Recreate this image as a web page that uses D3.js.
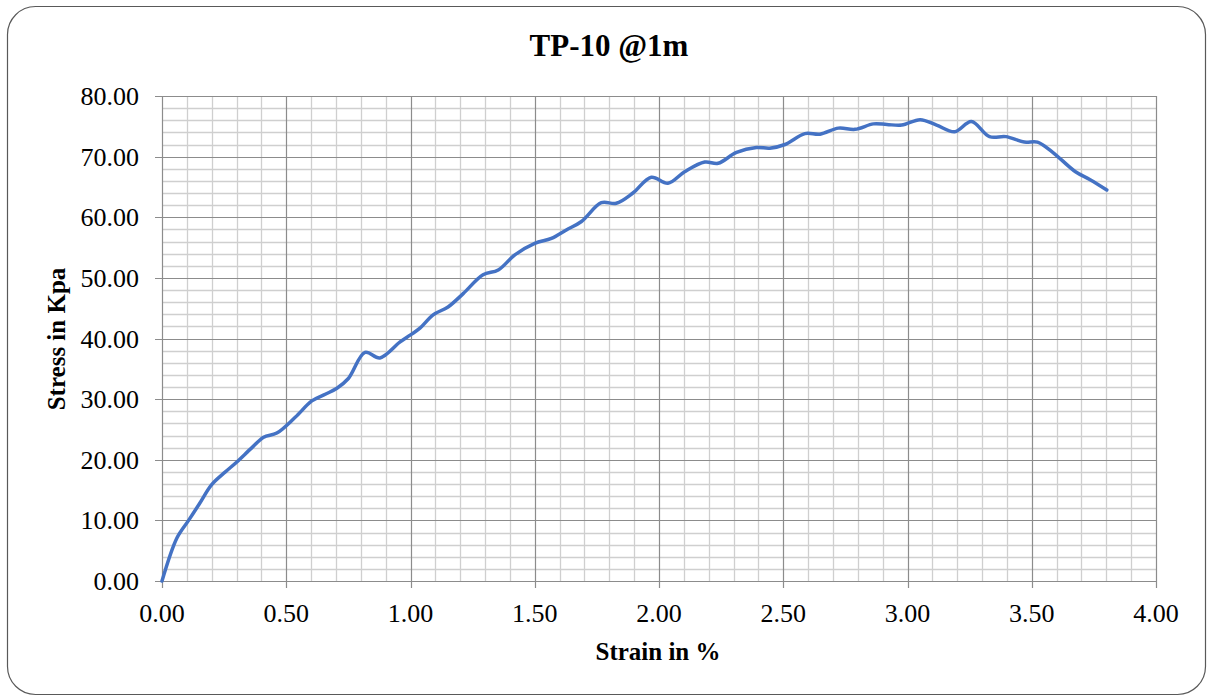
<!DOCTYPE html>
<html>
<head>
<meta charset="utf-8">
<script src="https://cdn.jsdelivr.net/npm/d3@7"></script>
<style>
  body { margin: 0; background: #fff; }
  svg { display: block; font-family: "Liberation Serif", "Times New Roman", serif; }
</style>
</head>
<body>
<div id="chart"></div>
<script>
var width = 1207,
    height = 697;

// strain (%) and stress (Kpa)
var strain = [0, 0.06, 0.107, 0.15, 0.2, 0.255, 0.30, 0.362, 0.409, 0.462, 0.536, 0.603, 0.657, 0.704, 0.75,
  0.817, 0.877, 0.957, 1.0, 1.038, 1.091, 1.151, 1.212, 1.292, 1.353, 1.42, 1.5, 1.567, 1.627, 1.688,
  1.768, 1.828, 1.895, 1.969, 2.036, 2.103, 2.184, 2.238, 2.312, 2.392, 2.446, 2.507, 2.587, 2.648,
  2.722, 2.789, 2.863, 2.917, 2.977, 3.051, 3.117, 3.19, 3.257, 3.33, 3.396, 3.47, 3.523, 3.582,
  3.676, 3.735, 3.802];
var stress = [0, 7.1, 10.0, 12.7, 15.9, 18.0, 19.6, 22, 23.7, 24.4, 27, 29.7, 30.8, 31.8, 33.4,
  37.7, 36.8, 39.4, 40.6, 41.7, 43.9, 45.2, 47.4, 50.5, 51.3, 53.8, 55.7, 56.5, 57.9, 59.3,
  62.4, 62.3, 64.0, 66.6, 65.6, 67.5, 69.1, 68.9, 70.7, 71.5, 71.4, 72.0, 73.8, 73.7,
  74.7, 74.5, 75.4, 75.3, 75.2, 76.1, 75.2, 74.1, 75.8, 73.3, 73.3, 72.4, 72.4, 70.8,
  67.5, 66.2, 64.5];

var xTicks = [0, 0.5, 1, 1.5, 2, 2.5, 3, 3.5, 4];
var yTicks = [0, 10, 20, 30, 40, 50, 60, 70, 80];

var chartTitle = "TP-10 @1m",
    xTitle = "Strain in %",
    yTitle = "Stress in Kpa";

var plot = {left: 162, right: 1156, top: 96, bottom: 581};

var x = d3.scaleLinear().domain([0, 4]).range([plot.left, plot.right]);
var y = d3.scaleLinear().domain([0, 80]).range([plot.bottom, plot.top]);

var svg = d3.select('#chart').append('svg')
    .attr('width', width)
    .attr('height', height);

// outer rounded frame
svg.append('rect')
    .attr('x', 7.5).attr('y', 6.5)
    .attr('width', 1198).attr('height', 688)
    .attr('rx', 28).attr('ry', 28)
    .style('fill', '#fff')
    .style('stroke', '#595959')
    .style('stroke-width', 1.2);

var grid = svg.append('g');

// minor grid
var xMinor = d3.range(1, 40).map(function (d) { return d / 10; }).filter(function (d) { return Math.round(d * 10) % 5 !== 0; });
var yMinor = d3.range(2, 80, 2).filter(function (d) { return d % 10 !== 0; });

grid.selectAll('.xminor').data(xMinor).enter().append('line')
    .attr('class', 'xminor')
    .attr('x1', function (d) { return Math.round(x(d)) + 0.5; })
    .attr('x2', function (d) { return Math.round(x(d)) + 0.5; })
    .attr('y1', plot.top).attr('y2', plot.bottom)
    .style('stroke', '#cfcfcf').style('stroke-width', 1.3);

grid.selectAll('.yminor').data(yMinor).enter().append('line')
    .attr('class', 'yminor')
    .attr('y1', function (d) { return Math.round(y(d)) + 0.5; })
    .attr('y2', function (d) { return Math.round(y(d)) + 0.5; })
    .attr('x1', plot.left).attr('x2', plot.right)
    .style('stroke', '#cfcfcf').style('stroke-width', 1.3);

// major grid
grid.selectAll('.xmajor').data(xTicks).enter().append('line')
    .attr('class', 'xmajor')
    .attr('x1', function (d) { return Math.round(x(d)) + 0.5; })
    .attr('x2', function (d) { return Math.round(x(d)) + 0.5; })
    .attr('y1', plot.top).attr('y2', plot.bottom + 7)
    .style('stroke', '#8c8c8c').style('stroke-width', 1.2);

grid.selectAll('.ymajor').data(yTicks).enter().append('line')
    .attr('class', 'ymajor')
    .attr('y1', function (d) { return Math.round(y(d)) + 0.5; })
    .attr('y2', function (d) { return Math.round(y(d)) + 0.5; })
    .attr('x1', plot.left - 7).attr('x2', plot.right)
    .style('stroke', '#8c8c8c').style('stroke-width', 1.2);

// tick labels
svg.selectAll('.xlab').data(xTicks).enter().append('text')
    .attr('class', 'xlab')
    .attr('x', function (d) { return x(d); })
    .attr('y', 622)
    .attr('text-anchor', 'middle')
    .style('font-size', '26px')
    .style('fill', '#000')
    .text(function (d) { return d3.format('.2f')(d); });

svg.selectAll('.ylab').data(yTicks).enter().append('text')
    .attr('class', 'ylab')
    .attr('x', 139)
    .attr('y', function (d) { return y(d) + 9; })
    .attr('text-anchor', 'end')
    .style('font-size', '26px')
    .style('fill', '#000')
    .text(function (d) { return d3.format('.2f')(d); });

// the curve
var line = d3.line()
    .x(function (d, i) { return x(strain[i]); })
    .y(function (d) { return y(d); })
    .curve(d3.curveCatmullRom.alpha(0.5));

svg.append('path')
    .datum(stress)
    .attr('d', line)
    .style('fill', 'none')
    .style('stroke', '#4472c4')
    .style('stroke-width', 3.5)
    .style('stroke-linejoin', 'round')
    .style('stroke-linecap', 'round');

// titles
svg.append('text')
    .attr('x', 609).attr('y', 56)
    .attr('text-anchor', 'middle')
    .style('font-size', '31px')
    .style('font-weight', 'bold')
    .text(chartTitle);

svg.append('text')
    .attr('x', 658).attr('y', 660)
    .attr('text-anchor', 'middle')
    .style('font-size', '25px')
    .style('font-weight', 'bold')
    .text(xTitle);

svg.append('text')
    .attr('transform', 'translate(65,339) rotate(-90)')
    .attr('text-anchor', 'middle')
    .style('font-size', '25px')
    .style('font-weight', 'bold')
    .text(yTitle);
</script>
</body>
</html>
